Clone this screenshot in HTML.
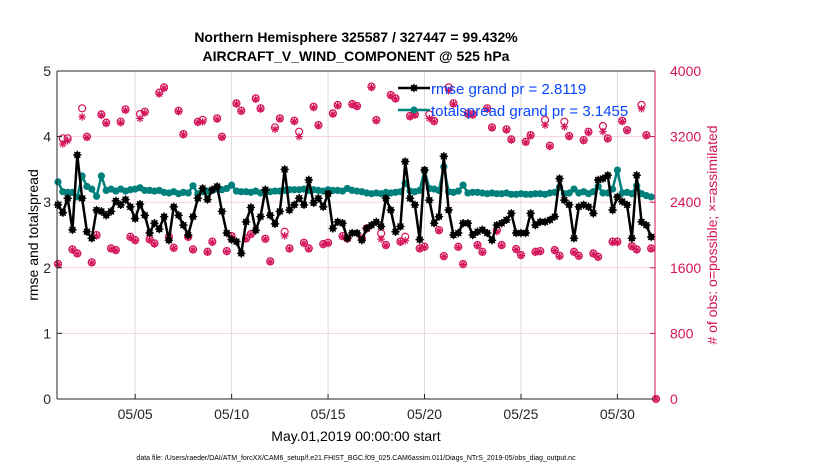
<!DOCTYPE html>
<html><head><meta charset="utf-8"><style>
body{margin:0;background:#fff;font-family:"Liberation Sans",sans-serif;}
svg text{font-family:"Liberation Sans",sans-serif;}
</style></head><body>
<svg id="chart" width="830" height="470" xmlns="http://www.w3.org/2000/svg">
<g id="grid"></g>
<g id="marks"></g>
<g id="axes"></g>
<text x="356" y="42" text-anchor="middle" font-size="14" font-weight="bold">Northern Hemisphere 325587 / 327447 = 99.432%</text>
<text x="356" y="61" text-anchor="middle" font-size="14" font-weight="bold">AIRCRAFT_V_WIND_COMPONENT @ 525 hPa</text>
<text transform="translate(38,235) rotate(-90)" text-anchor="middle" font-size="14">rmse and totalspread</text>
<text transform="translate(717,235) rotate(-90)" text-anchor="middle" font-size="14" fill="#d4145a"># of obs: o=possible; ×=assimilated</text>
<text x="356" y="441" text-anchor="middle" font-size="14">May.01,2019 00:00:00 start</text>
<text x="356" y="460" text-anchor="middle" font-size="7">data file: /Users/raeder/DAI/ATM_forcXX/CAM6_setup/f.e21.FHIST_BGC.f09_025.CAM6assim.011/Diags_NTrS_2019-05/obs_diag_output.nc</text>
<g id="legend"></g>
</svg>
<script>
const rmse=[2.96,2.84,3.06,2.58,3.72,3.06,2.55,2.45,2.88,2.86,2.80,2.86,3.02,2.96,3.04,2.93,2.75,2.97,2.80,2.53,2.68,2.59,2.78,2.42,2.93,2.80,2.65,2.50,2.78,3.06,3.21,3.04,3.19,3.24,2.86,2.53,2.43,2.40,2.22,2.70,2.92,2.57,2.78,3.19,2.80,2.67,2.86,3.50,2.88,2.96,3.06,2.96,3.34,2.99,3.06,2.93,3.13,2.60,2.70,2.68,2.45,2.53,2.53,2.42,2.60,2.65,2.70,2.63,3.06,2.88,2.55,2.63,3.62,3.06,2.96,2.43,3.49,3.03,2.68,2.78,3.70,2.88,2.50,2.53,2.68,2.68,2.50,2.55,2.58,2.53,2.42,2.65,2.68,2.73,2.83,2.53,2.53,2.53,2.83,2.65,2.70,2.70,2.73,2.78,3.36,3.03,2.96,2.45,2.93,2.96,2.93,2.83,3.34,3.36,3.41,2.88,3.08,3.01,2.96,2.45,3.41,2.70,2.65,2.47];
const spread=[3.31,3.16,3.15,3.15,3.08,3.40,3.24,3.20,3.09,3.40,3.18,3.20,3.17,3.20,3.17,3.19,3.20,3.22,3.18,3.18,3.17,3.18,3.15,3.14,3.16,3.13,3.15,3.14,3.25,3.13,3.16,3.17,3.18,3.20,3.19,3.21,3.26,3.17,3.16,3.16,3.15,3.17,3.14,3.15,3.16,3.17,3.17,3.18,3.19,3.19,3.19,3.20,3.18,3.19,3.18,3.17,3.19,3.18,3.18,3.17,3.21,3.18,3.17,3.16,3.14,3.13,3.14,3.13,3.15,3.14,3.15,3.16,3.29,3.17,3.16,3.18,3.49,3.21,3.20,3.18,3.54,3.16,3.15,3.17,3.26,3.14,3.15,3.15,3.14,3.13,3.14,3.13,3.13,3.14,3.12,3.12,3.13,3.12,3.12,3.13,3.13,3.12,3.14,3.15,3.23,3.13,3.14,3.20,3.14,3.16,3.13,3.16,3.24,3.14,3.14,3.20,3.49,3.14,3.15,3.13,3.25,3.13,3.10,3.08];
const possible=[1647,3179,3179,1825,1776,3545,3199,1667,1999,3471,3370,1837,1817,3382,3533,1979,1939,3475,3504,1947,1898,3736,3801,1979,1845,3516,3231,1979,1825,3382,3403,1796,1919,3423,3199,1804,1987,3606,3516,1959,2012,3667,3545,1955,1679,3313,3423,2040,1837,3394,3260,1906,1837,3565,3341,1890,1906,3484,3586,1987,1959,3598,3574,1959,2081,3809,3403,2020,1878,3708,3667,1919,1979,3451,3471,1837,1857,3471,3390,2060,1743,3801,3606,1857,1646,3480,3471,1878,1796,3545,3313,2060,1878,3289,3167,1829,1756,3138,3219,1796,1804,3403,3089,1817,1747,3382,3207,1796,1747,3158,3260,1776,1735,3329,3179,1919,1919,3394,3280,1865,1825,3586,3219,1837,0];
const assimilated=[1640,3110,3150,1818,1770,3440,3190,1660,1990,3460,3360,1830,1810,3370,3520,1970,1930,3420,3490,1940,1890,3720,3790,1970,1838,3505,3222,1970,1818,3372,3380,1790,1910,3412,3190,1798,1980,3598,3508,1950,2004,3656,3536,1948,1672,3290,3414,1990,1830,3384,3200,1898,1830,3555,3332,1882,1898,3474,3576,1980,1950,3588,3565,1950,2074,3798,3394,1950,1870,3698,3658,1912,1930,3440,3462,1830,1850,3420,3382,2052,1736,3760,3596,1850,1640,3470,3462,1870,1788,3535,3305,2040,1870,3280,3158,1822,1750,3130,3210,1788,1798,3340,3080,1810,1740,3320,3198,1788,1740,3150,3250,1770,1728,3260,3170,1910,1910,3384,3272,1858,1818,3540,3210,1830,0];
const xTickLabels=["05/05","05/10","05/15","05/20","05/25","05/30"];
const xTickDays=[4,9,14,19,24,29];
const yTicks=[0,1,2,3,4,5];
const y2Ticks=[0,800,1600,2400,3200,4000];

const L=57,R=655,T=71,B=399;
const xd=d=>58+d*19.29;
const y1=v=>B-(v/5)*(B-T);
const y2=v=>B-(v/4000)*(B-T);
const NS="http://www.w3.org/2000/svg";
function mk(tag,parent,attrs){const e=document.createElementNS(NS,tag);for(const k in attrs)e.setAttribute(k,attrs[k]);parent.appendChild(e);return e;}
const grid=document.getElementById('grid'),marks=document.getElementById('marks'),axes=document.getElementById('axes'),legend=document.getElementById('legend');
const PINK="#d4145a",TEAL="#00807a";
mk('rect',grid,{x:L,y:T,width:R-L,height:B-T,fill:"#fff"});
xTickDays.forEach((d,i)=>{
  const g=mk('line',grid,{x1:xd(d),x2:xd(d),y1:T,y2:B,stroke:"#dcdcdc","stroke-width":1});
  
  
  const t=mk('text',axes,{x:xd(d),y:B+20,"text-anchor":"middle","font-size":14,fill:"#262626"});
  t.textContent=xTickLabels[i];
  
  
  mk('line',axes,{x1:xd(d),x2:xd(d),y1:B,y2:B-5,stroke:"#262626"});
});
y2Ticks.forEach(v=>{
  if(v>0&&v<4000){const g=mk('line',grid,{x1:L,x2:R,y1:y2(v),y2:y2(v),stroke:"#f3d3de","stroke-width":1});
  
  }
  const t=mk('text',axes,{x:R+15,y:y2(v)+5,"font-size":14,fill:PINK});
  t.textContent=v;
  
  
  mk('line',axes,{x1:R,x2:R-5,y1:y2(v),y2:y2(v),stroke:PINK});
});
yTicks.forEach(v=>{
  const t=mk('text',axes,{x:L-6,y:y1(v)+5,"text-anchor":"end","font-size":14,fill:"#262626"});
  t.textContent=v;
  
  
  mk('line',axes,{x1:L,x2:L+5,y1:y1(v),y2:y1(v),stroke:"#262626"});
});
mk('line',axes,{x1:L,x2:R,y1:T,y2:T,stroke:"#262626"});
mk('line',axes,{x1:L,x2:R,y1:B,y2:B,stroke:"#262626"});
mk('line',axes,{x1:L,x2:L,y1:T,y2:B,stroke:"#262626"});
mk('line',axes,{x1:R,x2:R,y1:T,y2:B,stroke:PINK});

function star(p,x,y,r,c,w){for(let a=0;a<4;a++){const an=a*Math.PI/4;mk('line',p,{x1:x-r*Math.cos(an),y1:y-r*Math.sin(an),x2:x+r*Math.cos(an),y2:y+r*Math.sin(an),stroke:c,"stroke-width":w});}}
// obs counts
possible.forEach((v,i)=>{
  const c=mk('circle',marks,{cx:xd(i*0.25),cy:y2(v),r:3.5,fill:"none",stroke:PINK,"stroke-width":1.2});
  
  
});
assimilated.forEach((v,i)=>{
  const g=mk('g',marks,{});
  
  
  star(g,xd(i*0.25),y2(v),3.8,PINK,1.2);
});
// spread line
const sp=spread.map((v,i)=>xd(i*0.25)+","+y1(v)).join(" ");
const sl=mk('polyline',marks,{points:sp,fill:"none",stroke:TEAL,"stroke-width":2.5});


spread.forEach((v,i)=>{
  const c=mk('circle',marks,{cx:xd(i*0.25),cy:y1(v),r:3.6,fill:TEAL});
  
  
});
const rp=rmse.map((v,i)=>xd(i*0.25)+","+y1(v)).join(" ");
const rl=mk('polyline',marks,{points:rp,fill:"none",stroke:"#000","stroke-width":2.5});


rmse.forEach((v,i)=>{
  const g=mk('g',marks,{});
  
  
  mk('circle',g,{cx:xd(i*0.25),cy:y1(v),r:3.2,fill:"#000"});
  star(g,xd(i*0.25),y1(v),4.2,"#000",1.3);
});
// legend
const l1=mk('g',legend,{});


mk('line',l1,{x1:398,x2:430,y1:88,y2:88,stroke:"#000","stroke-width":2.5});
mk('circle',l1,{cx:414,cy:88,r:3.2,fill:"#000"});star(l1,414,88,4.2,"#000",1.3);
const t1=mk('text',l1,{x:431,y:94,"font-size":15,fill:"#0a46ff"});t1.textContent="rmse grand pr = 2.8119";
const l2=mk('g',legend,{});


mk('line',l2,{x1:398,x2:430,y1:110,y2:110,stroke:TEAL,"stroke-width":2.5});
mk('circle',l2,{cx:414,cy:110,r:3.6,fill:TEAL});
const t2=mk('text',l2,{x:431,y:116,"font-size":15,fill:"#0a46ff"});t2.textContent="totalspread grand pr = 3.1455";
</script>
</body></html>
